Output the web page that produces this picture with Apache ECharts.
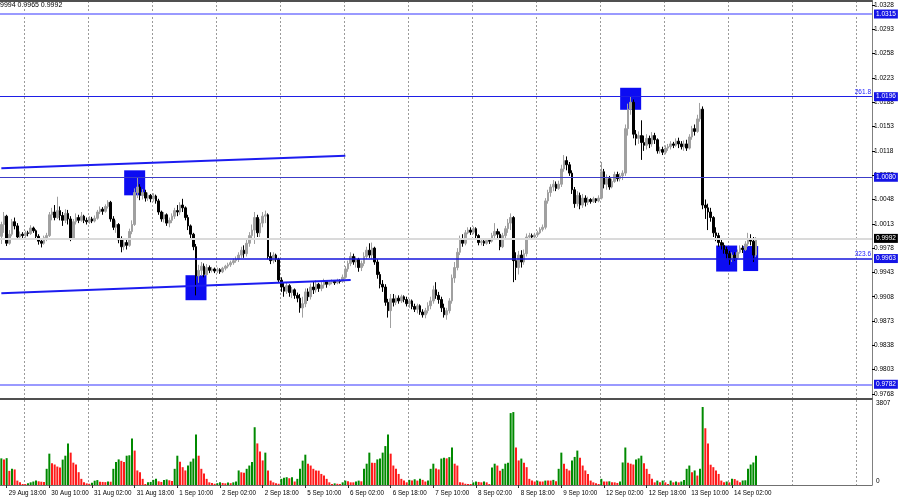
<!DOCTYPE html>
<html>
<head>
<meta charset="utf-8">
<script src="https://cdn.jsdelivr.net/npm/echarts@6/dist/echarts.min.js"></script>
<style>
html, body { margin: 0; padding: 0; background: #fff; }
#chart { width: 900px; height: 500px; }
</style>
</head>
<body>
<div id="chart"></div>
<script>
// EURUSD H1, 29 Aug 16:00 .. 14 Sep 11:00 (server time)
const firstOpen = 0.9995;
const closes = [
  1.0012, 1.0024, 0.9985, 0.9998, 1.0016, 1.0010, 0.9994, 0.9998,
  0.9996, 1.0000, 0.9999, 1.0007, 1.0003, 0.9995, 0.9988, 0.9985, 0.9993, 0.9996, 1.0026, 1.0030, 1.0022, 1.0032, 1.0025, 1.0018, 1.0028, 1.0020, 0.9992, 1.0016, 1.0022, 1.0018, 1.0024, 1.0018,
  1.0016, 1.0020, 1.0017, 1.0021, 1.0030, 1.0034, 1.0031, 1.0038, 1.0044, 1.0020, 1.0008, 1.0012, 0.9990, 0.9980, 0.9986, 0.9982, 1.0002, 1.0012, 1.0058, 1.0066, 1.0054, 1.0058, 1.0050, 1.0054,
  1.0049, 1.0053, 1.0046, 1.0030, 1.0020, 1.0026, 1.0014, 1.0018, 1.0024, 1.0032, 1.0030, 1.0040, 1.0036, 1.0022, 1.0010, 0.9998, 0.9980, 0.9938, 0.9946, 0.9952, 0.9940, 0.9950, 0.9946, 0.9948,
  0.9945, 0.9947, 0.9944, 0.9949, 0.9952, 0.9954, 0.9957, 0.9960, 0.9962, 0.9968, 0.9975, 0.9970, 0.9985, 0.9996, 1.0004, 1.0022, 1.0000, 1.0014, 1.0024, 1.0026, 0.9966, 0.9960, 0.9968, 0.9962,
  0.9932, 0.9922, 0.9916, 0.9924, 0.9914, 0.9918, 0.9910, 0.9906, 0.9892, 0.9898, 0.9915, 0.9908, 0.9922, 0.9918, 0.9926, 0.9920, 0.9925, 0.9930, 0.9926, 0.9929, 0.9930, 0.9928, 0.9931, 0.9930,
  0.9936, 0.9948, 0.9956, 0.9966, 0.9958, 0.9962, 0.9950, 0.9956, 0.9966, 0.9975, 0.9968, 0.9978, 0.9958, 0.9940, 0.9926, 0.9922, 0.9900, 0.9888, 0.9905, 0.9900, 0.9906, 0.9902, 0.9908, 0.9904,
  0.9898, 0.9902, 0.9894, 0.9890, 0.9895, 0.9886, 0.9882, 0.9888, 0.9895, 0.9902, 0.9918, 0.9910, 0.9904, 0.9892, 0.9882, 0.9888, 0.9902, 0.9935, 0.9950, 0.9972, 0.9990, 0.9985, 1.0000, 1.0004,
  1.0001, 1.0006, 0.9996, 0.9986, 0.9988, 0.9985, 0.9989, 0.9988, 0.9996, 1.0002, 0.9998, 0.9980, 0.9996, 1.0006, 1.0014, 1.0022, 0.9960, 0.9950, 0.9968, 0.9958, 0.9970, 0.9994, 0.9996, 0.9994,
  0.9997, 1.0000, 1.0005, 1.0008, 1.0046, 1.0058, 1.0066, 1.0070, 1.0064, 1.0070, 1.0092, 1.0104, 1.0098, 1.0086, 1.0062, 1.0042, 1.0054, 1.0040, 1.0050, 1.0044, 1.0048, 1.0045, 1.0049, 1.0046,
  1.0050, 1.0088, 1.0070, 1.0078, 1.0066, 1.0074, 1.0084, 1.0078, 1.0082, 1.0086, 1.0150, 1.0178, 1.0188, 1.0142, 1.0136, 1.0140, 1.0130, 1.0126, 1.0136, 1.0128, 1.0140, 1.0134, 1.0118, 1.0120,
  1.0116, 1.0122, 1.0124, 1.0128, 1.0126, 1.0132, 1.0128, 1.0124, 1.0128, 1.0122, 1.0138, 1.0150, 1.0146, 1.0164, 1.0178, 1.0040, 1.0036, 1.0030, 1.0022, 1.0000, 0.9996, 0.9986, 0.9982, 0.9976,
  0.9970, 0.9962, 0.9968, 0.9964, 0.9972, 0.9978, 0.9976, 0.9984, 0.9990, 0.9988, 0.9968, 0.9992
];
const highs = [
  1.0016, 1.0030, 1.0026, 1.0004, 1.0020, 1.0022, 1.0014, 1.0002,
  1.0001, 1.0003, 1.0003, 1.0011, 1.0009, 1.0005, 0.9998, 0.9992, 0.9996, 1.0000, 1.0030, 1.0036, 1.0040, 1.0052, 1.0038, 1.0030, 1.0034, 1.0033, 1.0024, 1.0020, 1.0028, 1.0026, 1.0030, 1.0026,
  1.0022, 1.0024, 1.0023, 1.0025, 1.0033, 1.0038, 1.0037, 1.0041, 1.0047, 1.0046, 1.0024, 1.0018, 1.0014, 0.9995, 0.9992, 0.9990, 1.0006, 1.0018, 1.0064, 1.0079, 1.0070, 1.0063, 1.0062, 1.0058,
  1.0056, 1.0057, 1.0055, 1.0049, 1.0032, 1.0030, 1.0028, 1.0022, 1.0028, 1.0036, 1.0040, 1.0044, 1.0049, 1.0038, 1.0026, 1.0012, 1.0000, 0.9984, 0.9954, 0.9958, 0.9956, 0.9955, 0.9953, 0.9951,
  0.9950, 0.9950, 0.9949, 0.9951, 0.9954, 0.9957, 0.9960, 0.9963, 0.9966, 0.9972, 0.9980, 0.9982, 0.9990, 1.0001, 1.0012, 1.0030, 1.0026, 1.0020, 1.0030, 1.0032, 1.0028, 0.9972, 0.9972, 0.9970,
  0.9964, 0.9936, 0.9928, 0.9928, 0.9926, 0.9922, 0.9920, 0.9914, 0.9912, 0.9908, 0.9920, 0.9920, 0.9927, 0.9930, 0.9932, 0.9928, 0.9930, 0.9934, 0.9932, 0.9932, 0.9933, 0.9932, 0.9934, 0.9933,
  0.9940, 0.9952, 0.9960, 0.9972, 0.9970, 0.9966, 0.9964, 0.9960, 0.9972, 0.9980, 0.9985, 0.9986, 0.9980, 0.9962, 0.9944, 0.9932, 0.9926, 0.9905, 0.9912, 0.9912, 0.9910, 0.9910, 0.9911, 0.9910,
  0.9908, 0.9905, 0.9904, 0.9898, 0.9898, 0.9897, 0.9890, 0.9892, 0.9900, 0.9908, 0.9924, 0.9929, 0.9915, 0.9908, 0.9898, 0.9892, 0.9906, 0.9940, 0.9958, 0.9978, 0.9996, 0.9998, 1.0004, 1.0008,
  1.0008, 1.0009, 1.0008, 0.9998, 0.9992, 0.9990, 0.9991, 0.9992, 1.0000, 1.0014, 1.0006, 1.0002, 1.0000, 1.0010, 1.0020, 1.0028, 1.0024, 0.9972, 0.9974, 0.9975, 0.9976, 0.9999, 1.0000, 0.9999,
  1.0000, 1.0003, 1.0008, 1.0012, 1.0050, 1.0062, 1.0070, 1.0076, 1.0074, 1.0075, 1.0098, 1.0112, 1.0110, 1.0102, 1.0090, 1.0066, 1.0060, 1.0058, 1.0056, 1.0054, 1.0052, 1.0050, 1.0052, 1.0050,
  1.0054, 1.0102, 1.0092, 1.0084, 1.0082, 1.0078, 1.0088, 1.0088, 1.0086, 1.0090, 1.0156, 1.0186, 1.0197, 1.0192, 1.0148, 1.0146, 1.0162, 1.0140, 1.0142, 1.0140, 1.0145, 1.0144, 1.0136, 1.0124,
  1.0124, 1.0126, 1.0128, 1.0132, 1.0131, 1.0136, 1.0137, 1.0132, 1.0133, 1.0134, 1.0142, 1.0154, 1.0156, 1.0170, 1.0187, 1.0182, 1.0048, 1.0042, 1.0036, 1.0024, 1.0008, 1.0000, 0.9992, 0.9986,
  0.9980, 0.9974, 0.9972, 0.9972, 0.9976, 0.9982, 0.9982, 0.9988, 1.0000, 0.9998, 0.9994, 0.9994
];
const lows = [
  0.9984, 1.0000, 0.9981, 0.9983, 0.9995, 1.0005, 0.9990, 0.9990,
  0.9992, 0.9993, 0.9995, 0.9997, 1.0000, 0.9992, 0.9983, 0.9979, 0.9983, 0.9988, 0.9994, 1.0018, 1.0018, 1.0020, 1.0018, 1.0010, 1.0014, 1.0012, 0.9988, 0.9990, 1.0012, 1.0014, 1.0016, 1.0014,
  1.0012, 1.0013, 1.0014, 1.0015, 1.0019, 1.0027, 1.0026, 1.0029, 1.0035, 1.0016, 1.0004, 1.0000, 0.9985, 0.9972, 0.9975, 0.9976, 0.9980, 0.9998, 1.0010, 1.0050, 1.0047, 1.0048, 1.0045, 1.0046,
  1.0044, 1.0045, 1.0042, 1.0026, 1.0016, 1.0015, 1.0010, 1.0008, 1.0014, 1.0020, 1.0024, 1.0026, 1.0030, 1.0018, 1.0004, 0.9992, 0.9975, 0.9910, 0.9928, 0.9938, 0.9936, 0.9938, 0.9942, 0.9943,
  0.9942, 0.9942, 0.9941, 0.9942, 0.9946, 0.9949, 0.9951, 0.9954, 0.9957, 0.9958, 0.9964, 0.9964, 0.9966, 0.9980, 0.9990, 0.9984, 0.9994, 0.9994, 1.0008, 1.0014, 0.9962, 0.9955, 0.9956, 0.9958,
  0.9928, 0.9915, 0.9908, 0.9912, 0.9908, 0.9906, 0.9905, 0.9900, 0.9885, 0.9878, 0.9893, 0.9902, 0.9904, 0.9912, 0.9914, 0.9915, 0.9916, 0.9920, 0.9921, 0.9924, 0.9926, 0.9925, 0.9926, 0.9927,
  0.9928, 0.9934, 0.9944, 0.9952, 0.9954, 0.9950, 0.9944, 0.9945, 0.9952, 0.9962, 0.9964, 0.9962, 0.9954, 0.9934, 0.9920, 0.9915, 0.9895, 0.9878, 0.9863, 0.9894, 0.9896, 0.9898, 0.9899, 0.9900,
  0.9894, 0.9892, 0.9890, 0.9886, 0.9884, 0.9882, 0.9878, 0.9877, 0.9884, 0.9890, 0.9898, 0.9905, 0.9898, 0.9886, 0.9878, 0.9875, 0.9884, 0.9898, 0.9928, 0.9946, 0.9968, 0.9980, 0.9982, 0.9998,
  0.9997, 0.9998, 0.9992, 0.9982, 0.9982, 0.9981, 0.9983, 0.9984, 0.9986, 0.9992, 0.9990, 0.9975, 0.9978, 0.9990, 1.0000, 1.0004, 0.9929, 0.9932, 0.9940, 0.9950, 0.9954, 0.9966, 0.9990, 0.9990,
  0.9991, 0.9994, 0.9998, 1.0002, 1.0005, 1.0042, 1.0052, 1.0060, 1.0060, 1.0062, 1.0066, 1.0088, 1.0090, 1.0082, 1.0056, 1.0036, 1.0038, 1.0034, 1.0036, 1.0038, 1.0040, 1.0042, 1.0043, 1.0043,
  1.0044, 1.0048, 1.0064, 1.0062, 1.0062, 1.0064, 1.0072, 1.0074, 1.0074, 1.0076, 1.0082, 1.0140, 1.0170, 1.0136, 1.0126, 1.0128, 1.0105, 1.0118, 1.0120, 1.0122, 1.0124, 1.0128, 1.0114, 1.0114,
  1.0112, 1.0113, 1.0118, 1.0120, 1.0122, 1.0124, 1.0122, 1.0120, 1.0118, 1.0118, 1.0120, 1.0134, 1.0140, 1.0144, 1.0160, 1.0034, 1.0020, 1.0004, 1.0016, 0.9994, 0.9988, 0.9980, 0.9976, 0.9970,
  0.9962, 0.9954, 0.9958, 0.9960, 0.9962, 0.9970, 0.9971, 0.9974, 0.9980, 0.9982, 0.9958, 0.9965
];
const volumes = [
  1300, 1250, 1310, 690, 790, 760, 215, 130,
  50, 45, 90, 130, 170, 215, 180, 160, 150, 790, 1530, 1060, 1000, 900, 850, 1240, 1430, 2030, 1580, 1090, 1000, 625, 300, 130,
  80, 60, 110, 210, 240, 160, 150, 140, 170, 160, 790, 1120, 1250, 1180, 1120, 1430, 1450, 2270, 1680, 710, 625, 300, 50, 130,
  150, 250, 300, 180, 150, 250, 270, 230, 200, 790, 1430, 1140, 870, 710, 950, 1140, 1290, 2470, 1430, 790, 560, 300, 130, 100,
  60, 90, 130, 100, 80, 120, 90, 130, 170, 710, 620, 600, 790, 950, 1120, 2820, 2030, 1630, 1200, 1580, 710, 215, 130, 80,
  60, 300, 350, 380, 330, 380, 170, 300, 790, 1190, 1480, 1040, 950, 790, 710, 700, 540, 460, 300, 130, 50, 80, 60, 45,
  130, 215, 180, 130, 130, 170, 215, 180, 790, 1040, 1580, 1090, 1080, 1250, 1290, 1580, 1900, 2470, 1530, 950, 790, 540, 300, 215,
  130, 250, 215, 280, 215, 300, 250, 170, 215, 790, 1040, 800, 760, 1290, 1330, 1300, 1360, 1830, 1040, 950, 130, 120, 60, 50,
  50, 130, 170, 150, 130, 170, 130, 50, 860, 1040, 950, 700, 790, 1040, 1090, 3510, 3560, 1830, 1200, 1290, 1090, 870, 300, 215,
  170, 215, 170, 170, 215, 215, 215, 250, 180, 790, 1580, 1040, 790, 710, 1200, 1370, 1680, 1330, 950, 710, 540, 215, 130, 80,
  50, 300, 170, 170, 180, 130, 130, 100, 170, 1100, 1830, 1090, 1040, 1000, 1250, 1300, 1430, 1060, 790, 540, 300, 130, 215, 130,
  215, 130, 50, 215, 130, 170, 130, 170, 250, 790, 950, 620, 710, 460, 790, 3807, 2770, 2030, 990, 870, 710, 540, 215, 130,
  170, 130, 300, 290, 215, 130, 220, 230, 790, 1000, 1100, 1430
];

const priceTicks = [0.9768, 0.9803, 0.9838, 0.9873, 0.9908, 0.9943, 0.9978, 1.0013, 1.0048,
  1.0083, 1.0118, 1.0153, 1.0188, 1.0223, 1.0258, 1.0293, 1.0328];
const volumeTicks = [0, 3807];

// horizontal levels and the price tags on the axis
const levels = [1.0315, 1.0196, 1.0080, 0.9992, 0.9963, 0.9782];
const bidPrice = 0.9992;
const fibLevels = [1.0196, 0.9963];
const fibTexts = ['261.8', '323.6'];
// channel lines: [bar index, price] pairs
const trendLines = [
  [[0, 1.0093], [129, 1.0111]],
  [[0, 0.9913], [131, 0.9932]]
];
// blue marker squares: [bar index, price]
const boxes = [[50, 1.0072], [73, 0.9921], [236, 1.0193], [272, 0.9963], [281, 0.9963]];

// styles
const boxSizes = [[21, 25], [21, 25], [21, 22], [21, 26], [15, 25]];
const levelStyle = {
  1.0315: { color: '#9a9aff', width: 2 },
  1.0196: { color: '#1e1ee6', width: 1.2 },
  1.0080: { color: '#3c3cc8', width: 1 },
  0.9992: { color: '#dadada', width: 2 },
  0.9963: { color: '#1414dc', width: 1.5 },
  0.9782: { color: '#9a9aff', width: 2 }
};
const FONT = '"Liberation Sans", Arial, sans-serif';

// hourly time axis, weekends skipped, with empty space on the right
const MONTHS = ['Jan', 'Feb', 'Mar', 'Apr', 'May', 'Jun', 'Jul', 'Aug', 'Sep', 'Oct', 'Nov', 'Dec'];
const totalSlots = 327;
const categories = [];
let t = Date.UTC(2022, 7, 29, 16);
while (categories.length < totalSlots) {
  const d = new Date(t);
  const wd = d.getUTCDay();
  if (wd !== 0 && wd !== 6) {
    const hh = String(d.getUTCHours()).padStart(2, '0');
    categories.push(d.getUTCDate() + ' ' + MONTHS[d.getUTCMonth()] + ' ' + hh + ':00');
  }
  t += 3600 * 1000;
}

const n = closes.length;
const candleData = closes.map((c, i) => {
  const o = i === 0 ? firstOpen : closes[i - 1];
  return [o, c, Math.min(lows[i], o, c), Math.max(highs[i], o, c)];
});
const volumeData = volumes.map((v, i) => ({
  value: v,
  itemStyle: { color: (i === 0 || v > volumes[i - 1]) ? '#008a00' : '#ff1a1a' }
}));

const isLabelBar = i => i < n && (i - 2) % 16 === 0;
const isGridBar = i => (i - 9) % 24 === 0;
const gridLine = { show: true, interval: isGridBar, lineStyle: { color: '#9a9a9a', type: [2, 2], width: 1 } };

const chart = echarts.init(document.getElementById('chart'), null, { renderer: 'canvas' });
chart.setOption({
  animation: false,
  backgroundColor: '#ffffff',
  textStyle: { fontFamily: FONT },
  graphic: [{
    type: 'text', left: 0, top: 2,
    style: {
      text: highs[n - 1].toFixed(4).slice(2) + ' ' + lows[n - 1].toFixed(4) + ' ' + closes[n - 1].toFixed(4),
      fontSize: 7, fill: '#000', fontFamily: FONT
    }
  }],
  grid: [
    { left: 0, right: 28, top: 1, height: 398 },
    { left: 0, right: 28, top: 400, height: 85 }
  ],
  xAxis: [
    {
      type: 'category', gridIndex: 0, data: categories, boundaryGap: true,
      axisLine: { show: true, lineStyle: { color: '#505050', width: 2 } },
      axisTick: { show: false }, axisLabel: { show: false },
      splitLine: gridLine
    },
    {
      type: 'category', gridIndex: 0, data: categories, position: 'top',
      axisLine: { show: true, lineStyle: { color: '#505050', width: 2 } },
      axisTick: { show: false }, axisLabel: { show: false }, splitLine: { show: false }
    },
    {
      type: 'category', gridIndex: 1, data: categories, boundaryGap: true,
      axisLine: { show: true, lineStyle: { color: '#707070', width: 1 } },
      axisTick: { show: true, interval: isLabelBar, alignWithLabel: true, length: 3, lineStyle: { color: '#333' } },
      axisLabel: {
        show: true, interval: isLabelBar, align: 'left', margin: 5, padding: [0, 0, 0, 2],
        fontSize: 6.3, color: '#000', fontFamily: FONT
      },
      splitLine: gridLine
    }
  ],
  yAxis: [
    {
      type: 'value', gridIndex: 0, position: 'right', scale: true,
      min: 0.976080, max: 1.033376,
      axisLine: { show: true, lineStyle: { color: '#808080', width: 1 } },
      axisTick: { show: true, customValues: priceTicks, length: 3, lineStyle: { color: '#000' } },
      axisLabel: {
        show: true, customValues: priceTicks, margin: 2, fontSize: 6.5, color: '#000', fontFamily: FONT,
        formatter: v => v.toFixed(4)
      },
      splitLine: { show: false }
    },
    {
      type: 'value', gridIndex: 1, position: 'right', min: 0, max: 4149,
      axisLine: { show: true, lineStyle: { color: '#808080', width: 1 } },
      axisTick: { show: false },
      axisLabel: {
        show: true, customValues: volumeTicks, margin: 4, fontSize: 6.5, color: '#000', fontFamily: FONT,
        verticalAlign: 'bottom', formatter: v => String(v)
      },
      splitLine: { show: false }
    }
  ],
  series: [
    {
      name: 'levels', type: 'line', xAxisIndex: 0, yAxisIndex: 0, data: [], z: 1,
      markLine: {
        silent: true, symbol: ['none', 'none'], animation: false, precision: 4,
        data: levels.map(p => ({
          yAxis: p,
          lineStyle: { type: 'solid', color: levelStyle[p].color, width: levelStyle[p].width },
          label: { show: false }
        })).concat(fibLevels.map((p, k) => ({
          yAxis: p,
          lineStyle: { width: 0 },
          label: {
            show: true, position: 'insideEndTop', distance: 1, formatter: fibTexts[k],
            fontSize: 6.5, color: '#2020ff', fontFamily: FONT
          }
        }))).concat(trendLines.map(seg => [
          { coord: seg[0], lineStyle: { type: 'solid', color: '#1c1cf0', width: 2 }, label: { show: false } },
          { coord: seg[1] }
        ]))
      }
    },
    {
      name: 'boxes', type: 'scatter', xAxisIndex: 0, yAxisIndex: 0, z: 2, silent: true,
      symbol: 'rect',
      data: boxes.map((b, k) => ({ value: b, symbolSize: boxSizes[k] })),
      itemStyle: { color: '#0c0cf2', opacity: 1 }
    },
    {
      name: 'EURUSD', type: 'candlestick', xAxisIndex: 0, yAxisIndex: 0, z: 3,
      data: candleData, barWidth: 2,
      itemStyle: {
        color: '#a0a0a0', color0: '#000000',
        borderColor: '#a0a0a0', borderColor0: '#000000', borderWidth: 1
      },
      markLine: {
        silent: true, symbol: ['none', 'none'], animation: false, precision: 4,
        data: levels.map(p => ({
          yAxis: p,
          lineStyle: { width: 0 },
          label: {
            show: true, position: 'end', distance: 2, formatter: p.toFixed(4),
            fontSize: 6.5, color: '#ffffff', fontFamily: FONT,
            backgroundColor: p === bidPrice ? '#000000' : '#1414e6',
            padding: [1, 2, 1, 2]
          }
        }))
      }
    },
    {
      name: 'Volumes', type: 'bar', xAxisIndex: 2, yAxisIndex: 1,
      data: volumeData, barWidth: 2
    }
  ]
});
</script>
</body>
</html>
